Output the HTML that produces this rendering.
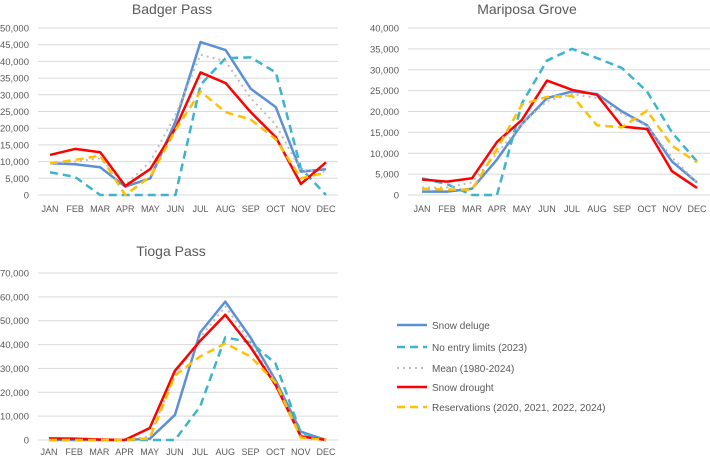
<!DOCTYPE html>
<html><head><meta charset="utf-8"><style>
body{margin:0;background:#fff;font-family:"Liberation Sans",sans-serif}
svg text{font-family:"Liberation Sans",sans-serif}
</style></head><body>
<svg id="chart" width="710" height="456" xmlns="http://www.w3.org/2000/svg"></svg>
<script>
const months=["JAN","FEB","MAR","APR","MAY","JUN","JUL","AUG","SEP","OCT","NOV","DEC"];
const seriesNames=["Snow deluge","No entry limits (2023)","Mean (1980-2024)","Snow drought","Reservations (2020, 2021, 2022, 2024)"];
const badgerDeluge=[9500,9200,8300,2500,5000,22000,45800,43400,31800,26300,7000,7700];
const badgerNoEntry=[6800,5400,0,0,0,0,33000,41000,41200,36700,8000,0];
const badgerMean=[9500,10000,11000,3000,10000,24000,42000,40000,29000,21000,7500,7000];
const badgerDrought=[12000,13800,12800,2700,7800,20000,36700,33500,24800,17300,3300,9800];
const badgerRes=[9500,10500,11800,0,5500,19500,31000,24800,22600,16700,5000,6700];
const mariDeluge=[800,800,1500,8500,17000,23200,24800,24200,20000,16700,8000,3000];
const mariNoEntry=[4000,2600,0,0,22000,32200,35000,32800,30400,24800,15000,8000];
const mariMean=[1800,1800,3000,10000,17000,22500,24200,23200,19500,16500,9000,3000];
const mariDrought=[3700,3200,4000,12700,18000,27400,25200,24000,16400,15800,5700,1700];
const mariRes=[1500,1300,1300,11000,21700,23500,23800,16700,16200,20200,11800,7800];
const tiogaDeluge=[0,0,0,0,500,10500,45000,58000,43000,25000,3500,0];
const tiogaNoEntry=[0,0,0,0,0,0,14000,43000,41000,32000,3000,0];
const tiogaMean=[500,500,200,0,1500,27000,43000,56000,41000,24000,2000,0];
const tiogaDrought=[700,600,200,0,5000,29000,41500,52500,39000,23000,1500,0];
const tiogaRes=[0,0,0,0,700,27000,35000,40500,35000,24000,1000,0];
const badgerTicks=[0,5000,10000,15000,20000,25000,30000,35000,40000,45000,50000];
const mariTicks=[0,5000,10000,15000,20000,25000,30000,35000,40000];
const tiogaTicks=[0,10000,20000,30000,40000,50000,60000,70000];

const styles=[
 {c:"#5B8FD6",w:2.5,d:""},
 {c:"#3CB4CC",w:2.5,d:"8,5"},
 {c:"#BDBDBD",w:2,d:"2,4"},
 {c:"#FF0000",w:2.5,d:""},
 {c:"#FFC000",w:2.5,d:"8,5"}];
const NS="http://www.w3.org/2000/svg";
const svg=document.getElementById('chart');
function mk(tag,attrs,parent){const e=document.createElementNS(NS,tag);for(const k in attrs)e.setAttribute(k,attrs[k]);(parent||svg).appendChild(e);return e;}
function fmt(v){return v.toLocaleString('en-US');}

function drawPanel(key,title,titleX,titleY,gx0,gx1,x0,x1,y0,y1,ticks,series,labOff){
  const g=mk('g',{});
  
  
  const maxV=ticks[ticks.length-1];
  const ys=v=>y0-(v/maxV)*(y0-y1);
  const xs=i=>x0+i*(x1-x0)/11;
  const t=mk('text',{x:titleX,y:titleY,'text-anchor':'middle','font-size':14,fill:'#595959'},g);
  t.textContent=title;
  
  
  ticks.forEach(v=>{
    const l=mk('line',{x1:gx0,x2:gx1,y1:ys(v),y2:ys(v),stroke:'#D9D9D9','stroke-width':1},g);
    
    
    const tx=mk('text',{x:gx0-9,y:ys(v)+3.5,'text-anchor':'end','font-size':9.5,fill:'#595959'},g);
    tx.textContent=fmt(v);
    
    
  });
  months.forEach((m,i)=>{
    const tx=mk('text',{x:xs(i),y:y0+labOff,'text-anchor':'middle','font-size':9,fill:'#595959'},g);
    tx.textContent=m;
    
    
  });
  series.forEach((arr,s)=>{
    const st=styles[s];
    const p=mk('polyline',{points:arr.map((v,i)=>xs(i)+','+ys(v)).join(' '),fill:'none',stroke:st.c,'stroke-width':st.w,'stroke-dasharray':st.d,'stroke-linejoin':'round'},g);
    
    
  });
}
drawPanel('badger','Badger Pass',172,14,38,338,50,326,195,28,badgerTicks,[badgerDeluge,badgerNoEntry,badgerMean,badgerDrought,badgerRes],17);
drawPanel('mariposa','Mariposa Grove',527,14,408,710,422,697,195,28,mariTicks,[mariDeluge,mariNoEntry,mariMean,mariDrought,mariRes],17);
drawPanel('tioga','Tioga Pass',171,256,38,338,49,326,440,273,tiogaTicks,[tiogaDeluge,tiogaNoEntry,tiogaMean,tiogaDrought,tiogaRes],15);

const lg=mk('g',{});


const ly=[325,347,368,387,407];
seriesNames.forEach((n,s)=>{
  const st=styles[s];
  const l=mk('line',{x1:397,x2:427,y1:ly[s],y2:ly[s],stroke:st.c,'stroke-width':st.w,'stroke-dasharray':st.d},lg);
  
  
  const t=mk('text',{x:432,y:ly[s]+4,'font-size':10,fill:'#595959'},lg);
  t.textContent=n;
  
  
});
</script>
</body></html>
